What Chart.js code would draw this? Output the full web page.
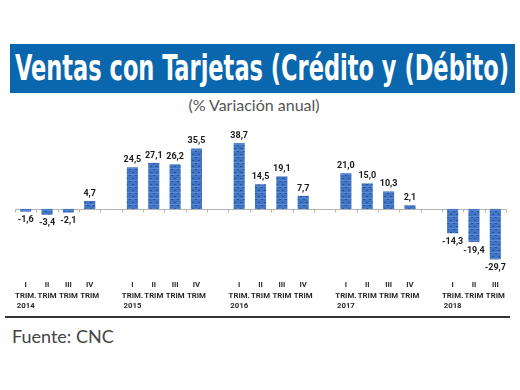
<!DOCTYPE html>
<html>
<head>
<meta charset="utf-8">
<script src="https://cdn.jsdelivr.net/npm/chart.js@4.4.1/dist/chart.umd.min.js"></script>
<style>
  html, body { margin: 0; padding: 0; background: #fff; }
  body { width: 520px; height: 390px; position: relative; overflow: hidden; }
  .title-bar { position: absolute; left: 10px; top: 44px; width: 505px; height: 49px; background: #0a67ad; overflow: hidden; }
  .title-bar span { position: absolute; left: 5px; top: 4px; color: #fff; font: bold 35px 'DejaVu Sans Condensed', sans-serif; white-space: nowrap; transform-origin: 0 0; }
  .subtitle { position: absolute; left: 0; width: 508px; top: 95px; text-align: center; color: #555; font: 16px 'Lato', 'Open Sans', sans-serif; }
  .chart-box { position: absolute; left: 0; top: 112px; width: 520px; height: 206px; }
  .rule { position: absolute; left: 5px; top: 316px; width: 505px; height: 2px; background: #333; }
  .source { position: absolute; left: 12px; top: 325px; color: #444; font: 18px 'Lato', 'Open Sans', sans-serif; }
</style>
</head>
<body>
<div class="title-bar"><span id="title">Ventas con Tarjetas (Crédito y (Débito)</span></div>
<div class="subtitle">(% Variación anual)</div>
<div class="chart-box"><canvas id="ventasChart"></canvas></div>
<div class="rule"></div>
<div class="source">Fuente: CNC</div>
<script>
const years = ['2014', '2015', '2016', '2017', '2018'];
const quarters = ['I', 'II', 'III', 'IV'];
const variacion2014 = [-1.6, -3.4, -2.1, 4.7];
const variacion2015 = [24.5, 27.1, 26.2, 35.5];
const variacion2016 = [38.7, 14.5, 19.1, 7.7];
const variacion2017 = [21.0, 15.0, 10.3, 2.1];
const variacion2018 = [-14.3, -19.4, -29.7];

// fit title into the bar width
const t = document.getElementById('title');
t.style.transform = 'scaleX(' + (494 / t.offsetWidth) + ')';

// 4 quarters per year, one empty slot between years
const byYear = [variacion2014, variacion2015, variacion2016, variacion2017, variacion2018];
const labels = [];
const values = [];
byYear.forEach((vals, yi) => {
    vals.forEach((v, qi) => {
        labels.push(qi === 0 ? [quarters[qi], 'TRIM.', years[yi]] : [quarters[qi], 'TRIM', '']);
        values.push(v);
    });
    if (yi < byYear.length - 1) { labels.push(''); values.push(null); }
});

function barPattern() {
    const c = document.createElement('canvas');
    c.width = 6; c.height = 6;
    const g = c.getContext('2d');
    g.fillStyle = '#4274c4';
    g.fillRect(0, 0, 6, 6);
    g.fillStyle = '#27509a';
    g.fillRect(0, 0, 2, 1);
    g.fillRect(3, 3, 2, 1);
    g.fillStyle = '#5a88d2';
    g.fillRect(0, 2, 6, 1);
    return g.createPattern(c, 'repeat');
}

const zeroLine = {
    id: 'zeroLine',
    beforeDatasetsDraw(chart) {
        const ctx = chart.ctx, a = chart.chartArea;
        const y0 = Math.round(chart.scales.y.getPixelForValue(0)) + 0.5;
        ctx.save();
        ctx.strokeStyle = '#b5b5b5';
        ctx.lineWidth = 1;
        ctx.beginPath();
        ctx.moveTo(a.left, y0);
        ctx.lineTo(a.right, y0);
        for (let i = 0; i <= labels.length; i++) {
            const x = Math.round(a.left + (a.right - a.left) * i / labels.length) + 0.5;
            ctx.moveTo(x, y0);
            ctx.lineTo(x, y0 + 3);
        }
        ctx.stroke();
        ctx.restore();
    }
};

const valueLabels = {
    id: 'valueLabels',
    afterDatasetsDraw(chart) {
        const ctx = chart.ctx;
        ctx.save();
        ctx.font = 'bold 9px Roboto, sans-serif';
        ctx.fillStyle = '#1a1a1a';
        ctx.textAlign = 'center';
        chart.getDatasetMeta(0).data.forEach((el, i) => {
            const v = values[i];
            if (v === null) return;
            const txt = v.toFixed(1).replace('.', ',');
            if (v >= 0) {
                ctx.textBaseline = 'bottom';
                ctx.fillText(txt, el.x, el.y - 3);
            } else {
                ctx.textBaseline = 'top';
                ctx.fillText(txt, el.x, el.y + 4);
            }
        });
        ctx.restore();
    }
};

new Chart(document.getElementById('ventasChart'), {
    type: 'bar',
    data: {
        labels: labels,
        datasets: [{
            data: values,
            backgroundColor: barPattern(),
            borderWidth: 0,
            barPercentage: 0.52,
            categoryPercentage: 1
        }]
    },
    options: {
        responsive: true, maintainAspectRatio: false,
        animation: false,
        layout: { padding: { left: 15, right: 14, top: 0, bottom: 0 } },
        plugins: { legend: { display: false }, tooltip: { enabled: false } },
        scales: {
            y: { display: false, min: -37.1, max: 57 },
            x: {
                grid: { display: false, drawTicks: false },
                border: { display: false },
                afterFit: s => { s.height = 46; },
                ticks: {
                    autoSkip: false, maxRotation: 0, padding: 8,
                    color: '#2a2a2a',
                    font: { family: 'Roboto, sans-serif', size: 7.8, weight: 'bold', lineHeight: 1.35 }
                }
            }
        }
    },
    plugins: [zeroLine, valueLabels]
});
</script>
</body>
</html>
